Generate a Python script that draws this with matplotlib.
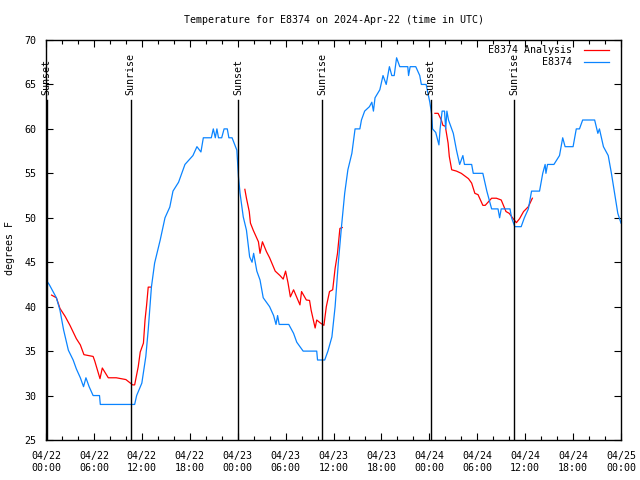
import numpy as np
import pandas as pd
import matplotlib
matplotlib.use('Agg')
import matplotlib.pyplot as plt
import matplotlib.dates as mdates

# hours since 2024-04-22 00:00 UTC
obs_hours = [0.0, 0.4, 0.7, 1.3, 1.75, 2.2, 2.8, 3.4, 3.8, 4.3, 4.7, 5.0, 5.4, 5.9, 6.7, 6.8,
             11.1, 11.35, 12.0, 12.5, 12.8, 13.2, 13.6, 14.3, 14.9, 15.5, 15.9, 16.6, 17.4,
             18.4, 18.9, 19.4, 19.7, 20.7, 20.95, 21.2, 21.4, 21.6, 22.0, 22.3, 22.7, 22.9,
             23.3, 23.9, 24.1, 24.3, 24.7, 25.1, 25.5, 25.8, 26.0, 26.4, 26.8, 27.2, 28.0,
             28.5, 28.8, 29.0, 29.2, 30.4, 31.0, 31.4, 32.2, 33.9, 34.0, 34.9, 35.3, 35.8,
             36.2, 36.6, 37.0, 37.4, 37.8, 38.3, 38.7, 39.3, 39.5, 39.9, 40.5, 40.8, 41.0,
             41.2, 41.8, 42.2, 42.4, 42.6, 43.0, 43.3, 43.6, 43.9, 44.3, 45.3, 45.4, 45.6,
             46.3, 46.8, 47.0, 47.6, 48.06, 48.3, 48.4, 48.8, 49.2, 49.35, 49.6, 49.9, 50.05,
             50.2, 50.4, 51.0, 51.4, 51.8, 52.2, 52.4, 53.3, 53.5, 54.7, 55.2, 55.5, 55.8,
             56.6, 56.8, 57.0, 58.1, 58.3, 58.7, 59.5, 59.9, 60.4, 60.8, 61.8, 62.2, 62.5,
             62.6, 62.8, 63.6, 64.3, 64.7, 65.0, 66.0, 66.4, 66.8, 67.2, 68.7, 69.1, 69.3,
             69.8, 70.4, 70.8, 71.2, 71.6, 72.0]
obs_temp = [43, 42.5, 42, 41, 39.6, 37.4, 35.1, 34, 33, 32, 31, 32, 31, 30, 30, 29,
            29, 30, 31.4, 34.4, 37.4, 42.2, 44.9, 47.5, 50, 51.2, 53, 54, 56,
            57, 58, 57.4, 59, 59, 60, 59, 60, 59, 59, 60, 60, 59,
            59, 57.6, 54.6, 52.75, 50.1, 48.6, 45.6, 45, 46, 44, 43, 41, 40,
            39, 38, 39, 38, 38, 37, 36, 35, 35, 34, 34, 35, 36.6,
            40, 44.9, 49, 52.75, 55.4, 57.25, 60, 60, 61, 62, 62.5, 63, 62,
            63.5, 64.4, 66, 65.5, 65, 67, 66, 66, 68, 67, 67, 66, 67,
            67, 66, 65, 65, 63, 61.6, 60, 59.6, 58.2, 60, 62, 62, 60,
            62, 61, 59.5, 57.6, 56, 57, 56, 56, 55, 55, 53, 52, 51,
            51, 50, 51, 51, 50, 49, 49, 50, 51, 53, 53, 55, 56,
            55, 56, 56, 57, 59, 58, 58, 60, 60, 61, 61, 59.5, 60,
            58, 57, 55, 52.75, 50.5, 49.4]

# analysis series, NaN marks the gaps between runs
ana_hours = [0.7, 1.3, 1.75, 2.4, 3.0, 3.8, 4.3, 4.75, 5.9, 6.1, 6.76, 7.05, 7.8, 8.8, 10.0,
             10.85, 11.1, 11.55, 11.8, 12.2, 12.4, 12.6, 12.8, 13.15, 13.2,
             24.9, 25.1, 25.45, 25.6, 25.95, 26.6, 26.8, 27.1, 27.6, 28.0, 28.7, 29.3, 29.7,
             30.0, 30.3, 30.6, 31.0, 31.8, 32.0, 32.6, 33.0, 33.2, 33.7, 33.9, 34.3, 34.8,
             35.1, 35.5, 35.9, 36.2, 36.5, 36.8, 37.1, 37.2,
             48.7, 49.1, 49.5, 49.7, 50.0, 50.35, 50.5, 50.8, 51.4, 52.0, 52.9, 53.3, 53.7,
             54.1, 54.7, 55.0, 55.8, 56.4, 57.0, 57.6, 58.0, 58.5, 58.9, 59.3, 59.8, 60.4,
             60.9]
ana_temp = [41.3, 41, 39.8, 38.9, 37.9, 36.4, 35.7, 34.6, 34.4, 33.9, 31.9, 33.1, 32, 32, 31.8,
            31.2, 31.2, 33.25, 34.9, 35.9, 38.5, 40.2, 42.2, 42.2, np.nan,
            53.2, 52.2, 50.7, 49.4, 48.6, 47.3, 46, 47.3, 46.2, 45.5, 44, 43.5, 43.1,
            44, 42.7, 41.1, 41.9, 40.2, 41.7, 40.75, 40.7, 39.6, 37.6, 38.5, 38.2, 37.9,
            40, 41.7, 41.9, 44.3, 46, 48.8, 48.9, np.nan,
            61.75, 61.75, 61, 60.4, 60.3, 58.4, 56.9, 55.4, 55.25, 55, 54.4, 53.9, 52.75,
            52.6, 51.4, 51.4, 52.2, 52.2, 52, 50.7, 50.5, 49.9, 49.45, 49.9, 50.7, 51.25,
            52.2]

sunset_hours = [0.1, 24.1, 48.15]
sunrise_hours = [10.6, 34.6, 58.6]

start = pd.Timestamp('2024-04-22 00:00')
def to_time(h):
    return start + pd.to_timedelta(np.array(h, dtype=float), unit='h')

plt.rcParams['font.family'] = 'DejaVu Sans Mono'
plt.rcParams['font.size'] = 7.2

fig = plt.figure(figsize=(6.4, 4.8), dpi=100)
ax = fig.add_axes([46/640, 40/480, 575/640, 400/480])

ax.plot(to_time(ana_hours), ana_temp, color='#ff0000', lw=0.9, label='E8374 Analysis')
ax.plot(to_time(obs_hours), obs_temp, color='#0a84ff', lw=0.9, label='         E8374')

for h in sunset_hours:
    ax.axvline(to_time([h])[0], ymax=0.85, color='black', lw=1.0)
    ax.text(to_time([h])[0], 0.8625, 'Sunset', rotation=90, ha='center', va='bottom',
            transform=ax.get_xaxis_transform())
for h in sunrise_hours:
    ax.axvline(to_time([h])[0], ymax=0.85, color='black', lw=1.0)
    ax.text(to_time([h])[0], 0.8625, 'Sunrise', rotation=90, ha='center', va='bottom',
            transform=ax.get_xaxis_transform())

ax.set_xlim(start, start + pd.Timedelta(hours=72))
ax.set_ylim(25, 70)
ax.set_yticks(range(25, 71, 5))
ax.xaxis.set_major_locator(mdates.HourLocator(byhour=[0, 6, 12, 18]))
ax.xaxis.set_minor_locator(mdates.HourLocator(byhour=range(0, 24, 2)))
ax.xaxis.set_major_formatter(mdates.DateFormatter('%m/%d\n%H:%M'))
ax.tick_params(which='both', direction='in', top=True, right=True, width=0.8)
ax.tick_params(which='major', length=5)
ax.tick_params(which='minor', length=3)
ax.tick_params(axis='x', pad=8)
ax.tick_params(axis='y', pad=7)
for s in ax.spines.values():
    s.set_linewidth(1.0)

ax.set_ylabel('degrees F')
ax.yaxis.set_label_coords(-0.054, 0.48)

fig.text(333.5/640, 1 - 20/480, 'Temperature for E8374 on 2024-Apr-22 (time in UTC)',
         ha='center', va='center')

ax.legend(loc='upper right', bbox_to_anchor=(1 - 12/575, 1 - 5.5/400), frameon=False,
          markerfirst=False, handlelength=2.5, handletextpad=1.2, borderaxespad=0,
          borderpad=0, labelspacing=0.2)

fig.savefig('out.png', dpi=100)
